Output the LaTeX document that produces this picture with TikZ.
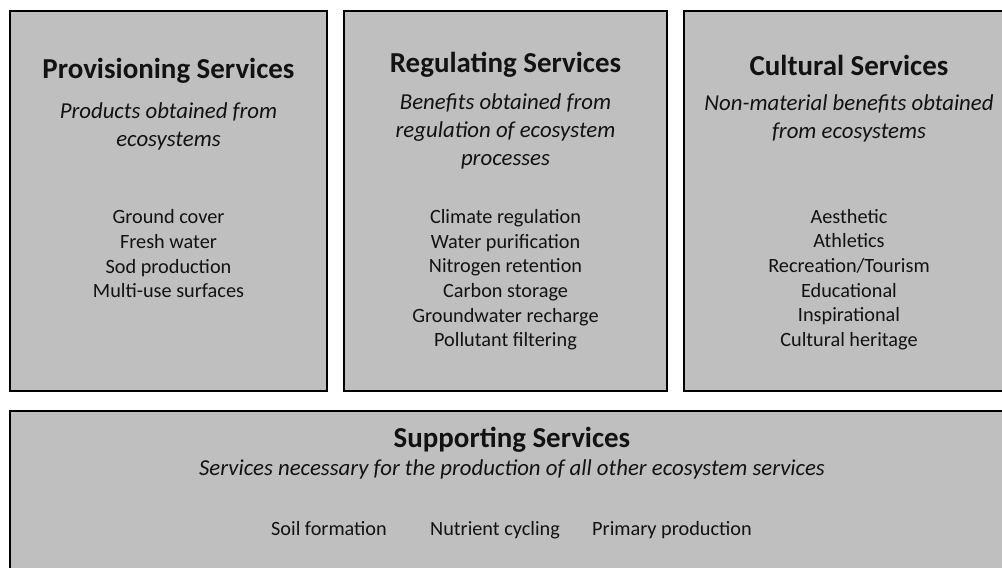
\documentclass[tikz,border=0pt]{standalone}
\usepackage{fontspec}
\setmainfont{Carlito}
\tikzstyle{panel} = [rectangle, draw=black, line width=1.8pt, fill=gray!50, inner sep=0pt]
\tikzstyle{heading} = [font=\bfseries\fontsize{21.7}{26}\selectfont, text=black!93, inner sep=0pt]
\tikzstyle{blurb} = [font=\itshape\fontsize{17.1}{21}\selectfont, align=center, text=black!93, inner sep=0pt]
\tikzstyle{items} = [font=\fontsize{15.2}{18.5}\selectfont, align=center, text=black!93, inner sep=0pt]

\begin{document}
\begin{tikzpicture}[x=0.75pt,y=-0.75pt]
			\useasboundingbox (0,0) rectangle (1002,567);
			\clip (0,0) rectangle (1002,567);
			%-----------------------------------------------
			\node (provbox) [panel, minimum width=237.75pt, minimum height=285pt] at (168.5,201) {};
			\node (regbox) [panel, minimum width=242.25pt, minimum height=285pt] at (505.5,201) {};
			\node (cultbox) [panel, minimum width=247.5pt, minimum height=285pt] at (849,201) {};
			\node (suppbox) [panel, minimum width=753pt, minimum height=156.75pt] at (512,515.5) {};
			%-----------------------------------------------
			\node (provhead) [heading] at (168.5,71) {Provisioning Services};
			\node (provblurb) [blurb] at (168.5,126) {Products obtained from\\ecosystems};
			\node (provlist) [items] at (168.5,254) {Ground cover\\Fresh water\\Sod production\\Multi-use surfaces};
			%-----------------------------------------------
			\node (reghead) [heading] at (505.5,65) {Regulating Services};
			\node (regblurb) [blurb] at (505.5,131.5) {Benefits obtained from\\regulation of ecosystem\\processes};
			\node (reglist) [items] at (505.5,280) {Climate regulation\\Water purification\\Nitrogen retention\\Carbon storage\\Groundwater recharge\\Pollutant filtering};
			%-----------------------------------------------
			\node (culthead) [heading] at (849,65) {Cultural Services};
			\node (cultblurb) [blurb] at (849,118.5) {Non-material benefits obtained\\from ecosystems};
			\node (cultlist) [items] at (849,279.5) {Aesthetic\\Athletics\\Recreation/Tourism\\Educational\\Inspirational\\Cultural heritage};
			%-----------------------------------------------
			\node (supphead) [heading] at (512,440) {Supporting Services};
			\node (suppblurb) [blurb] at (512,469) {Services necessary for the production of all other ecosystem services};
			\node (soil) [items, anchor=base] at (329,535) {Soil formation};
			\node (nutrient) [items, anchor=base] at (495,535) {Nutrient cycling};
			\node (primary) [items, anchor=base] at (672,535) {Primary production};
\end{tikzpicture}
\end{document}
